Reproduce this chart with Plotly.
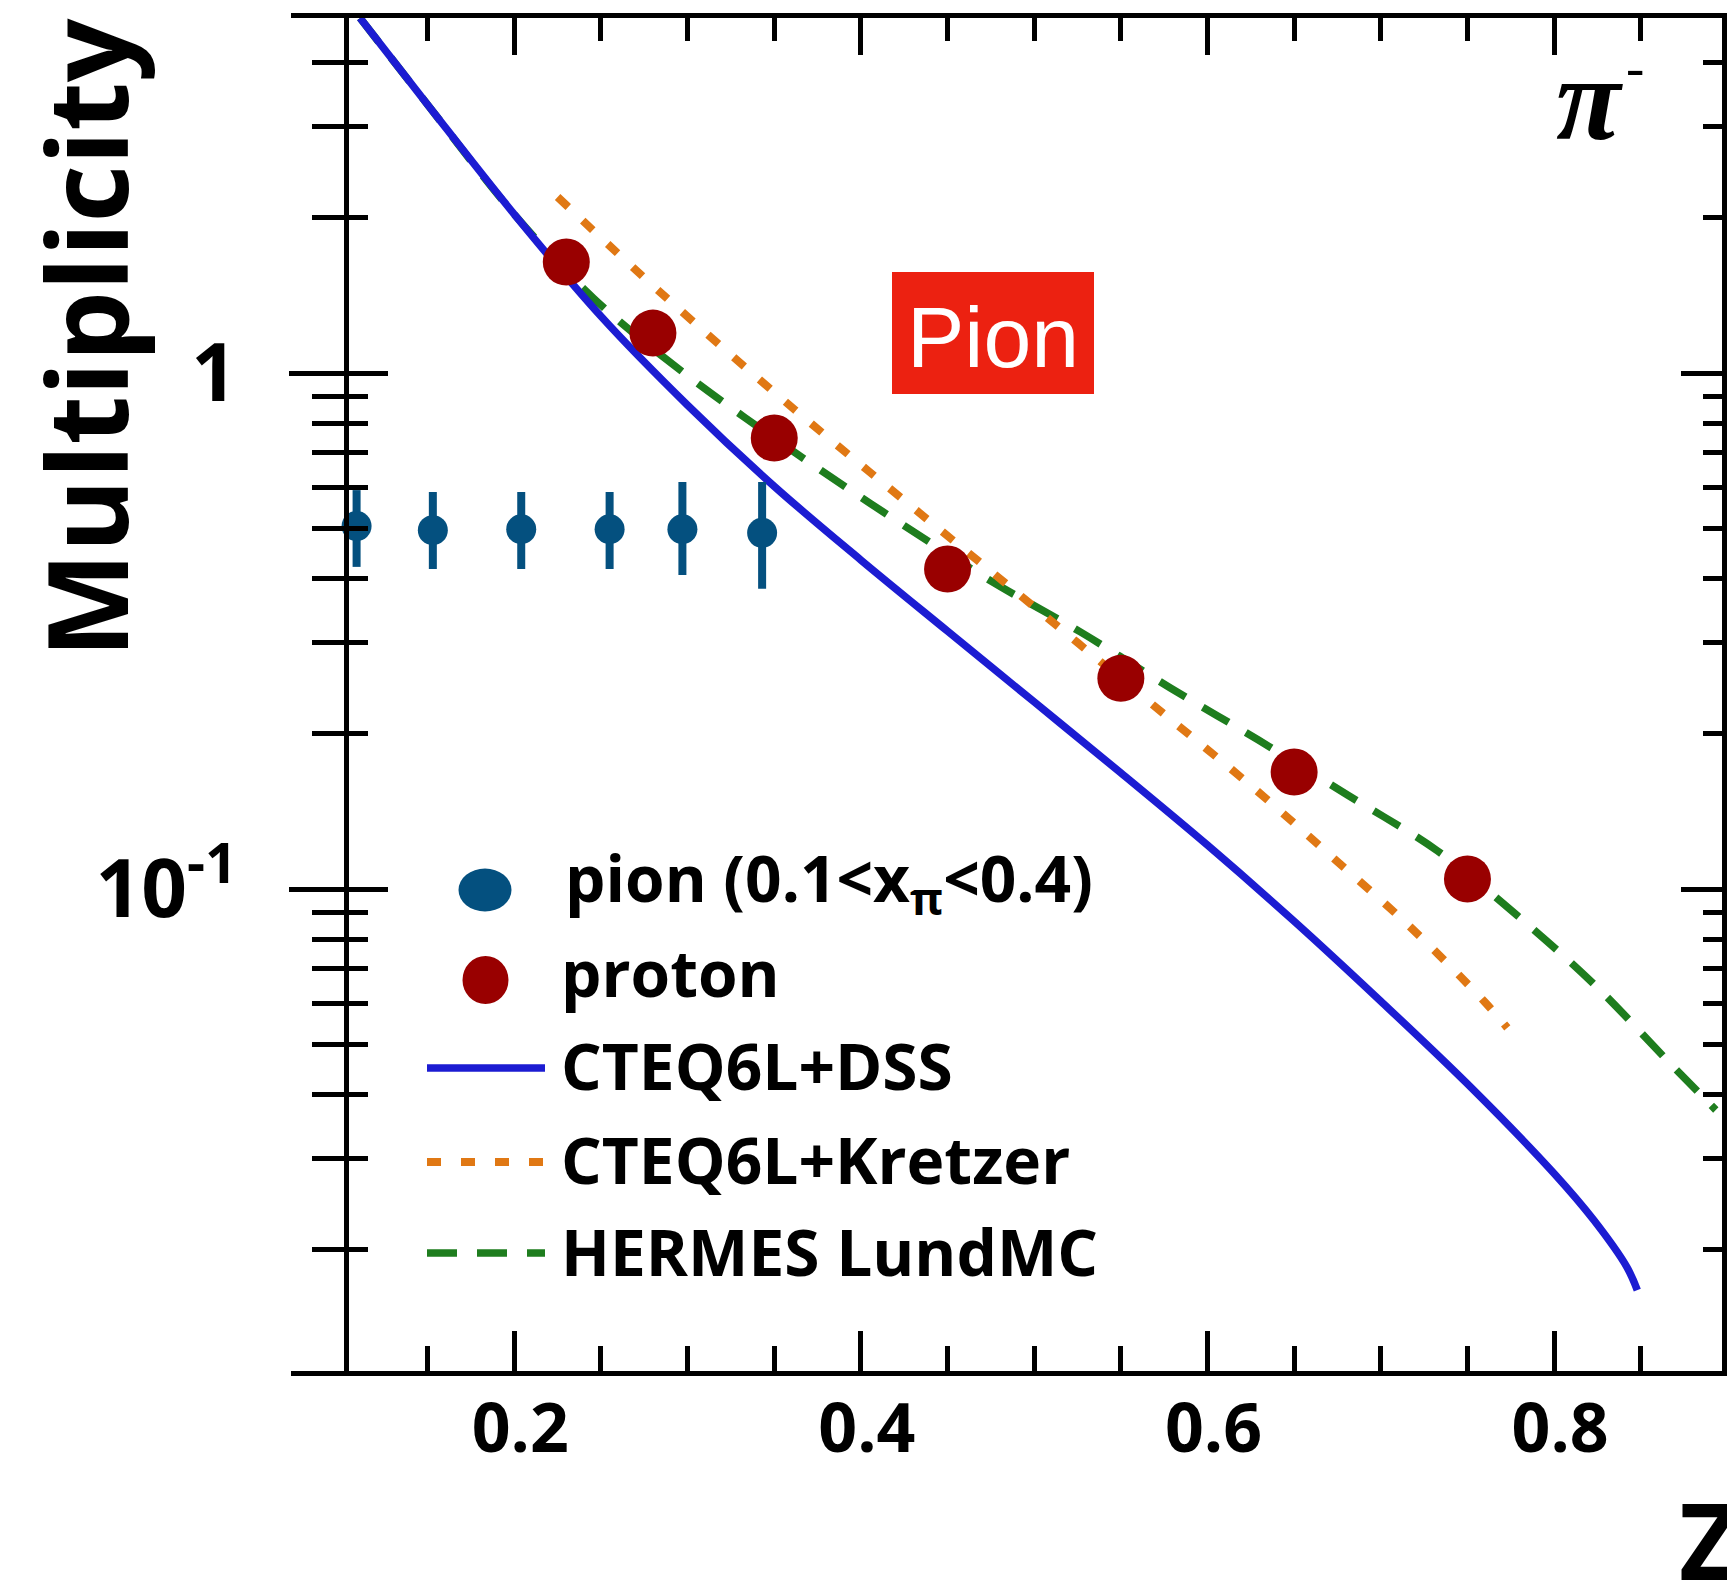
import plotly.graph_objects as go

# ---------------- data ----------------
series_names = ["pion (0.1&lt;x<sub>π</sub>&lt;0.4)", "proton", "CTEQ6L+DSS",
                "CTEQ6L+Kretzer", "HERMES LundMC"]

pion_z = [0.109, 0.153, 0.204, 0.255, 0.297, 0.343]
pion_mult = [0.505, 0.496, 0.498, 0.498, 0.498, 0.490]
pion_err_plus = [0.088, 0.092, 0.090, 0.090, 0.117, 0.125]
pion_err_minus = [0.084, 0.079, 0.081, 0.081, 0.092, 0.108]

proton_z = [0.23, 0.28, 0.35, 0.45, 0.55, 0.65, 0.75]
proton_mult = [1.641, 1.195, 0.748, 0.417, 0.256, 0.1685, 0.1046]

dss_z = [0.111, 0.15, 0.2, 0.25, 0.3, 0.35, 0.4, 0.45, 0.5, 0.55, 0.6, 0.65,
         0.7, 0.75, 0.8, 0.823, 0.842, 0.848]
dss_mult = [4.875, 3.311, 2.030, 1.288, 0.866, 0.603, 0.434, 0.316, 0.2304,
            0.1679, 0.1216, 0.0866, 0.0606, 0.0419, 0.0281, 0.0228, 0.0185, 0.0167]

kretzer_z = [0.225, 0.286, 0.362, 0.424, 0.486, 0.565, 0.626, 0.672, 0.717,
             0.760, 0.773]
kretzer_mult = [2.193, 1.416, 0.848, 0.570, 0.385, 0.2325, 0.1576, 0.1153,
                0.0844, 0.0604, 0.0538]

lund_z = [0.111, 0.15, 0.2, 0.2455, 0.2986, 0.3725, 0.4227, 0.4741, 0.5266,
          0.5786, 0.6294, 0.6808, 0.7328, 0.779, 0.824, 0.8662, 0.8933]
lund_mult = [4.875, 3.311, 2.030, 1.398, 0.996, 0.663, 0.512, 0.397, 0.315,
             0.2452, 0.1944, 0.1521, 0.1185, 0.0887, 0.0649, 0.0462, 0.0373]

x_tick_vals = [0.2, 0.4, 0.6, 0.8]
x_tick_text = ["0.2", "0.4", "0.6", "0.8"]
x_minor_vals = [0.15, 0.25, 0.3, 0.35, 0.45, 0.5, 0.55, 0.65, 0.7, 0.75, 0.85]
y_tick_vals = [0.1, 1]
y_tick_text = ["10<sup>-1</sup>", "1"]
y_minor_vals = [0.02, 0.03, 0.04, 0.05, 0.06, 0.07, 0.08, 0.09,
                0.2, 0.3, 0.4, 0.5, 0.6, 0.7, 0.8, 0.9, 2, 3, 4]

# ---------------- layout geometry ----------------
W, H = 1727, 1582
ML, MR, MT, MB = 349, 5, 18, 211
PW = W - ML - MR
PH = H - MT - MB
X_RANGE = [0.10462, 0.89688]
Y_RANGE = [-1.9341, 0.688]


def px(X):
    return (X - ML) / PW


def py(Y):
    return (H - MB - Y) / PH


C_PION = "#04507F"
C_PROTON = "#990000"
C_DSS = "#1C1CD2"
C_KRETZER = "#E07814"
C_LUND = "#1E7D1E"
DASH_KRETZER = "14px,20px"
DASH_LUND = "30px,20px"
BOLD = dict(family="Open Sans", weight="bold", color="black")

fig = go.Figure()

fig.add_trace(go.Scatter(x=lund_z, y=lund_mult, mode="lines", name=series_names[4],
                         line=dict(color=C_LUND, width=7.5, dash=DASH_LUND, shape="spline")))
fig.add_trace(go.Scatter(x=kretzer_z, y=kretzer_mult, mode="lines", name=series_names[3],
                         line=dict(color=C_KRETZER, width=8, dash=DASH_KRETZER, shape="spline")))
fig.add_trace(go.Scatter(x=dss_z, y=dss_mult, mode="lines", name=series_names[2],
                         line=dict(color=C_DSS, width=7.5, shape="spline")))
fig.add_trace(go.Scatter(x=pion_z, y=pion_mult, mode="markers", name=series_names[0],
                         marker=dict(size=30, color=C_PION),
                         error_y=dict(type="data", symmetric=False, array=pion_err_plus,
                                      arrayminus=pion_err_minus, thickness=8, width=0,
                                      color=C_PION),
                         cliponaxis=False))
fig.add_trace(go.Scatter(x=proton_z, y=proton_mult, mode="markers", name=series_names[1],
                         marker=dict(size=47, color=C_PROTON)))
# empty helper traces so the mirrored axes get drawn
fig.add_trace(go.Scatter(x=[None], y=[None], xaxis="x2", yaxis="y2", hoverinfo="skip"))
fig.add_trace(go.Scatter(x=[None], y=[None], xaxis="x", yaxis="y3", hoverinfo="skip"))

common_x = dict(range=X_RANGE, showgrid=False, zeroline=False, showline=True,
                linewidth=5, linecolor="black", tickcolor="black", tickwidth=4.5,
                tickmode="array", tickvals=x_tick_vals)
fig.update_layout(
    xaxis=dict(**common_x, side="bottom", anchor="y", ticks="inside", ticklen=40,
               ticktext=x_tick_text, tickfont=dict(size=68, **BOLD),
               ticklabelstandoff=-6, ticklabelshift=6,
               minor=dict(tickmode="array", tickvals=x_minor_vals, ticks="inside",
                          ticklen=25, tickwidth=4.5, tickcolor="black")),
    xaxis2=dict(**common_x, side="top", anchor="y", overlaying="x", ticks="inside",
                ticklen=37, showticklabels=False,
                minor=dict(tickmode="array", tickvals=x_minor_vals, ticks="inside",
                           ticklen=23, tickwidth=4.5, tickcolor="black")),
)
common_y = dict(type="log", range=Y_RANGE, showgrid=False, zeroline=False,
                tickcolor="black", tickwidth=4.5, tickmode="array", tickvals=y_tick_vals)
fig.update_layout(
    yaxis=dict(**common_y, side="left", anchor="x", showline=True, linewidth=5,
               linecolor="black", ticks="outside", ticklen=55, ticktext=y_tick_text,
               tickfont=dict(size=80, **BOLD), ticklabelstandoff=36,
               minor=dict(tickmode="array", tickvals=y_minor_vals, ticks="outside",
                          ticklen=32, tickwidth=4.5, tickcolor="black")),
    yaxis2=dict(**common_y, side="left", anchor="x2", overlaying="y", showline=False,
                ticks="inside", ticklen=39, showticklabels=False,
                minor=dict(tickmode="array", tickvals=y_minor_vals, ticks="inside",
                           ticklen=19, tickwidth=4.5, tickcolor="black")),
    yaxis3=dict(**common_y, side="right", anchor="x", overlaying="y", showline=True,
                linewidth=5, linecolor="black", ticks="inside", ticklen=41,
                showticklabels=False,
                minor=dict(tickmode="array", tickvals=y_minor_vals, ticks="inside",
                           ticklen=19, tickwidth=4.5, tickcolor="black")),
)

shapes = []
# frame lines extending left of the y axis (top and bottom)
for yy in (15.5, 1373.5):
    shapes.append(dict(type="line", xref="paper", yref="paper", x0=px(291), x1=px(349),
                       y0=py(yy), y1=py(yy), line=dict(color="black", width=5)))
# "Pion" red box
shapes.append(dict(type="rect", xref="paper", yref="paper", x0=px(892), x1=px(1094),
                   y0=py(394), y1=py(272), fillcolor="#EC2111", line=dict(width=0),
                   layer="above"))
# legend symbols
shapes.append(dict(type="circle", xref="paper", yref="paper", x0=px(458.5), x1=px(511.5),
                   y0=py(911.5), y1=py(868.5), fillcolor=C_PION, line=dict(width=0)))
shapes.append(dict(type="circle", xref="paper", yref="paper", x0=px(462.5), x1=px(508.5),
                   y0=py(1004), y1=py(956), fillcolor=C_PROTON, line=dict(width=0)))
for yy, col, dash, lw in ((1068, C_DSS, "solid", 7.5), (1162, C_KRETZER, DASH_KRETZER, 8),
                          (1253, C_LUND, DASH_LUND, 7.5)):
    shapes.append(dict(type="line", xref="paper", yref="paper", x0=px(427), x1=px(545),
                       y0=py(yy), y1=py(yy), line=dict(color=col, width=lw, dash=dash)))

annotations = []
legend_rows = [(563, 881), (559, 972), (559, 1065), (559, 1159), (559, 1251)]
for name, (lx, ly) in zip(series_names, legend_rows):
    annotations.append(dict(text=name, xref="paper", yref="paper", x=px(lx), y=py(ly),
                            xanchor="left", yanchor="middle", showarrow=False,
                            font=dict(size=64, **BOLD)))
annotations.append(dict(text="Pion", xref="paper", yref="paper", x=px(993), y=py(337),
                        xanchor="center", yanchor="middle", showarrow=False,
                        font=dict(family="Liberation Sans", size=86, color="white")))
annotations.append(dict(text="π", xref="paper", yref="paper", x=px(1589), y=py(100),
                        xanchor="center", yanchor="middle", showarrow=False,
                        font=dict(family="Liberation Serif", size=118, color="black",
                                  style="italic", weight="bold")))
annotations.append(dict(text="-", xref="paper", yref="paper", x=px(1635), y=py(67.5),
                        xanchor="center", yanchor="middle", showarrow=False,
                        font=dict(family="Liberation Serif", size=55, color="black")))
annotations.append(dict(text="Multiplicity", xref="paper", yref="paper", x=px(84),
                        y=py(338), xanchor="center", yanchor="middle", textangle=-90,
                        showarrow=False, font=dict(size=112, **BOLD)))
annotations.append(dict(text="Z", xref="paper", yref="paper", x=px(1677), y=py(1466),
                        xanchor="left", yanchor="top", showarrow=False,
                        font=dict(size=105, **BOLD)))

fig.update_layout(
    width=W, height=H, autosize=False,
    margin=dict(l=ML, r=MR, t=MT, b=MB, pad=0),
    paper_bgcolor="white", plot_bgcolor="white",
    showlegend=False,
    shapes=shapes, annotations=annotations,
)

fig.write_html("out.html")
